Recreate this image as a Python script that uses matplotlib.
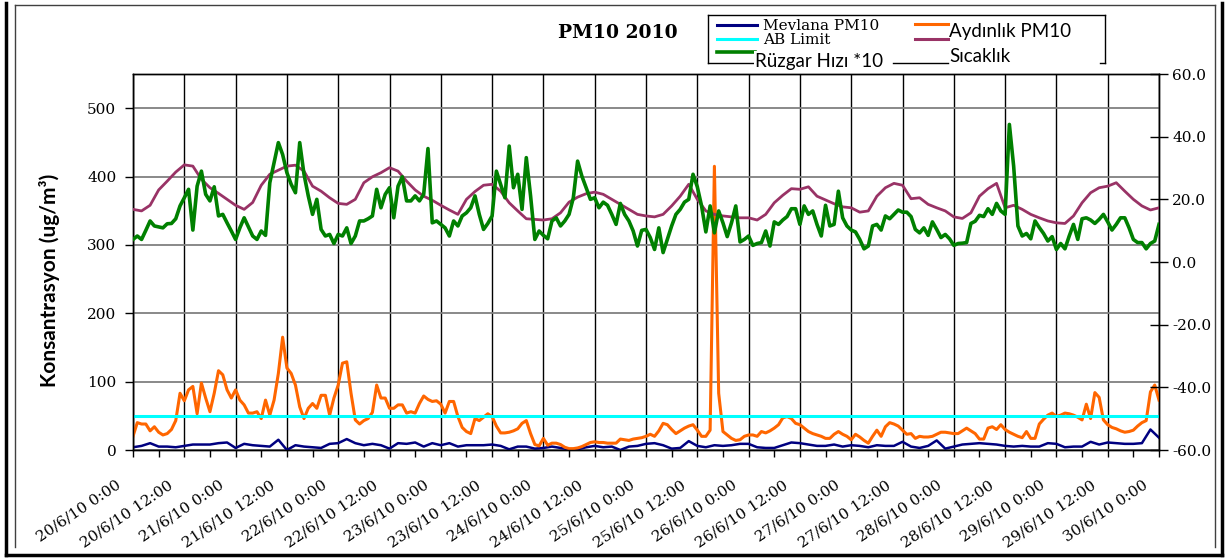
import numpy as np
import pandas as pd
import matplotlib
matplotlib.use("Agg")
import matplotlib.pyplot as plt
import matplotlib.transforms as mtrans
from matplotlib.lines import Line2D
from matplotlib.ticker import MultipleLocator, FuncFormatter

# ---- data ----
START = pd.Timestamp("2010-06-20 00:00")
AB_LIMIT = 50

# hourly series
aydinlik_pm10 = [
    20, 40, 38, 38, 28, 34, 26, 22, 24, 30,
    43, 83, 72, 88, 93, 53, 98, 76, 56, 83,
    116, 110, 88, 76, 88, 73, 66, 54, 54, 56,
    46, 73, 51, 73, 112, 165, 120, 112, 95, 63,
    46, 61, 68, 61, 80, 80, 51, 76, 95, 127,
    129, 83, 44, 38, 43, 46, 55, 95, 76, 76,
    61, 61, 66, 66, 54, 56, 54, 68, 79, 74,
    71, 72, 67, 54, 71, 71, 49, 33, 27, 24,
    46, 43, 48, 53, 49, 35, 25, 25, 26, 28,
    31, 39, 43, 24, 8, 6, 17, 7, 10, 10,
    8, 4, 2, 2, 3, 5, 8, 11, 12, 11,
    11, 10, 10, 10, 16, 15, 14, 16, 17, 18,
    20, 23, 20, 28, 39, 37, 30, 24, 28, 32,
    35, 37, 29, 20, 20, 29, 415, 83, 27, 22,
    17, 14, 15, 20, 22, 22, 20, 27, 25, 28,
    32, 37, 47, 49, 46, 39, 37, 32, 27, 24,
    22, 20, 17, 17, 23, 27, 23, 20, 15, 23,
    19, 14, 10, 20, 29, 20, 34, 40, 38, 35,
    29, 23, 24, 17, 20, 19, 19, 20, 23, 26,
    26, 25, 24, 24, 28, 32, 28, 24, 16, 16,
    32, 34, 30, 37, 30, 26, 23, 20, 18, 27,
    17, 17, 38, 45, 51, 54, 49, 51, 54, 53,
    51, 48, 44, 67, 46, 84, 77, 44, 37, 33,
    31, 28, 26, 27, 29, 35, 40, 43, 85, 95,
    73,
]
ruzgar_x10 = [
    7.2, 8.3, 7.2, 10.1, 13.1, 11.5, 11.2, 10.9, 12.2, 12.3,
    13.8, 17.9, 20.5, 23.2, 10.2, 24.2, 29.0, 21.6, 19.5, 24.0,
    14.7, 15.2, 12.5, 9.9, 7.2, 10.9, 14.1, 11.2, 8.3, 7.2,
    9.9, 8.5, 25.3, 31.7, 38.1, 34.3, 28.5, 24.8, 22.1, 38.1,
    28.0, 21.1, 15.2, 20.0, 10.4, 8.3, 8.8, 5.9, 8.8, 8.3,
    10.9, 5.9, 8.3, 13.1, 13.1, 13.8, 14.7, 23.2, 17.3, 21.6,
    23.7, 14.1, 24.2, 27.2, 19.5, 19.5, 21.1, 19.5, 21.6, 36.2,
    12.5, 13.1, 12.0, 10.9, 8.3, 13.1, 11.5, 14.7, 15.7, 17.3,
    21.1, 15.2, 10.4, 12.3, 14.7, 29.0, 24.8, 20.5, 37.0, 23.7,
    28.0, 16.8, 33.3, 21.1, 7.2, 9.9, 8.5, 7.4, 13.1, 14.1,
    11.5, 13.1, 15.2, 20.5, 32.2, 27.4, 23.7, 20.0, 20.5, 17.3,
    19.1, 18.1, 15.2, 12.0, 18.7, 15.2, 13.1, 9.9, 5.1, 10.1,
    10.4, 7.8, 4.0, 10.9, 3.0, 7.2, 11.5, 15.2, 16.8, 19.1,
    20.0, 28.0, 24.0, 17.9, 9.6, 17.9, 9.3, 16.3, 12.5, 8.1,
    12.5, 17.9, 6.4, 7.2, 8.3, 5.3, 5.9, 6.2, 9.9, 5.1,
    12.8, 12.0, 13.4, 14.5, 17.0, 17.0, 12.0, 17.9, 15.2, 16.3,
    12.0, 8.3, 18.1, 11.5, 12.0, 22.6, 14.1, 11.5, 10.2, 9.6,
    7.2, 4.2, 5.1, 11.5, 12.0, 10.2, 14.7, 13.8, 15.2, 16.6,
    15.9, 15.9, 14.5, 10.4, 9.3, 10.9, 8.5, 12.8, 10.4, 7.8,
    8.8, 7.4, 5.3, 5.9, 6.0, 6.2, 12.3, 13.0, 14.9, 14.5,
    17.0, 15.2, 18.7, 16.3, 15.2, 43.9, 30.6, 11.5, 8.3, 9.1,
    7.4, 13.1, 11.0, 9.1, 6.7, 8.1, 4.0, 5.9, 4.2, 8.3,
    12.0, 7.2, 13.8, 14.1, 13.4, 12.3, 13.6, 15.2, 12.8, 10.2,
    12.0, 14.1, 14.1, 10.9, 7.2, 6.2, 6.2, 4.2, 5.9, 6.7,
    12.0,
]

# two-hourly series
mevlana_pm10 = [
    4, 6, 10, 5, 5, 4, 6, 8, 8, 8, 10, 11, 3, 9, 7, 6, 5, 15, 0, 7,
    5, 4, 3, 9, 10, 16, 10, 7, 9, 7, 2, 10, 9, 11, 5, 10, 7, 10, 5, 7,
    7, 7, 8, 6, 1, 5, 5, 2, 3, 5, 3, 1, 1, 4, 6, 4, 5, 0, 5, 6,
    9, 10, 7, 2, 3, 13, 6, 4, 7, 6, 7, 9, 9, 4, 3, 3, 7, 11, 10, 8,
    6, 6, 8, 5, 7, 6, 4, 7, 6, 6, 12, 5, 3, 6, 14, 2, 5, 8, 9, 10,
    9, 8, 6, 5, 6, 5, 5, 10, 9, 4, 5, 5, 12, 8, 11, 10, 9, 9, 10, 30,
    18,
]
sicaklik = [
    16.8, 16.3, 18.1, 23.0, 25.8, 28.7, 31.0, 30.6, 26.4, 23.7,
    21.9, 20.0, 18.1, 16.8, 19.0, 24.5, 28.0, 29.3, 30.6, 30.9,
    29.0, 24.2, 22.6, 20.5, 18.7, 18.4, 20.0, 25.3, 27.2, 28.5,
    30.1, 29.0, 25.8, 23.0, 21.0, 19.7, 18.1, 16.6, 15.2, 20.0,
    22.5, 24.5, 24.8, 22.6, 18.9, 16.3, 13.8, 13.6, 13.4, 13.8,
    15.7, 19.1, 20.7, 21.8, 22.3, 21.6, 20.0, 18.4, 16.8, 15.2,
    14.7, 14.4, 15.2, 17.9, 21.0, 24.8, 20.0, 16.3, 15.2, 14.7,
    14.4, 14.1, 14.1, 13.4, 15.2, 18.9, 21.3, 23.4, 23.2, 24.0,
    21.0, 19.8, 18.6, 17.6, 17.3, 15.9, 16.3, 21.0, 23.7, 25.1,
    24.5, 20.2, 20.5, 18.4, 17.3, 16.3, 14.4, 13.9, 15.7, 21.0,
    23.4, 25.1, 17.3, 18.1, 16.8, 15.2, 14.1, 13.1, 12.5, 12.3,
    14.7, 18.9, 22.1, 23.7, 24.2, 25.3, 22.6, 20.0, 17.9, 16.6,
    17.3,
]

t_hourly = np.arange(len(aydinlik_pm10))
t_2h = np.arange(len(sicaklik)) * 2
tick_hours = np.arange(0, 241, 12)
tick_labels = [f"{d.day}/{d.month}/{d:%y} {d.hour}:00"
               for d in START + pd.to_timedelta(tick_hours, unit="h")]

# ---- figure ----
W, H = 1227, 558
fig = plt.figure(figsize=(W / 100, H / 100), dpi=100)
px = lambda x, y: (x / W, 1 - y / H)  # pixel -> figure fraction

ax = fig.add_axes([133 / W, 1 - 450 / H, (1159 - 133) / W, (450 - 74) / H])
ax2 = ax.twinx()

ax.plot(t_2h, mevlana_pm10, color="#000080", lw=1.8, zorder=3)
ax.plot(t_hourly, aydinlik_pm10, color="#FF6600", lw=2.2, zorder=4)
ax.axhline(AB_LIMIT, color="#00FFFF", lw=2.2, zorder=5)
ax2.plot(t_2h, sicaklik, color="#993366", lw=2.0, zorder=3)
ax2.plot(t_hourly, ruzgar_x10, color="#008000", lw=2.6, zorder=4)

ax.set_xlim(0, 240)
ax.set_ylim(0, 550)
ax2.set_ylim(-60, 60)

serif = "DejaVu Serif"
ax.set_xticks(tick_hours)
ax.set_xticklabels(tick_labels, rotation=34, ha="right", va="top",
                   rotation_mode="anchor", fontsize=11, family=serif)
ax.xaxis.set_minor_locator(MultipleLocator(6))
ax.yaxis.set_major_locator(MultipleLocator(100))
ax2.yaxis.set_major_locator(MultipleLocator(20))
ax2.yaxis.set_major_formatter(FuncFormatter(lambda v, p: f"{v:.1f}"))

ax.grid(axis="x", which="major", color="black", lw=1.0)
ax.grid(axis="y", which="major", color="#808080", lw=1.3)
ax.set_axisbelow(True)

ax.tick_params(axis="x", which="both", direction="out", length=5, width=1, pad=15)
ax.tick_params(axis="y", direction="out", length=6, width=1, labelsize=11, pad=6)
ax2.tick_params(axis="y", direction="inout", length=13, width=1, labelsize=11, pad=3)
shift = mtrans.ScaledTranslation(-0.17, 0, fig.dpi_scale_trans)
for lab in ax.get_xticklabels():
    lab.set_transform(lab.get_transform() + shift)
for lab in ax.get_yticklabels() + ax2.get_yticklabels():
    lab.set_family(serif)

for a in (ax, ax2):
    for s in a.spines.values():
        s.set_color("black")
        s.set_linewidth(1.0)

fig.text(*px(50, 280), "Konsantrasyon (ug/m³)", rotation=90, ha="center", va="center",
         family="Lato", fontweight="bold", fontsize=15)
fig.text(*px(618, 33), "PM10 2010", ha="center", va="center", family=serif,
         fontweight="bold", fontsize=13.5)

# ---- legend (drawn like the Excel one) ----
def seg(x0, x1, y0, y1, **kw):
    fig.add_artist(Line2D([x0 / W, x1 / W], [1 - y0 / H, 1 - y1 / H], **kw))

box = dict(color="black", lw=1.0)
seg(708, 1105, 15, 15, **box)
seg(708, 708, 15, 63, **box)
seg(1105, 1105, 15, 63, **box)
seg(708, 756, 63, 63, **box)
seg(893, 948, 63, 63, **box)
seg(1100, 1105, 63, 63, **box)

seg(717, 757, 25, 25, color="#000080", lw=2.2)
seg(717, 757, 39, 39, color="#00FFFF", lw=2.2)
seg(717, 755, 52, 52, color="#008000", lw=2.6)
seg(915, 948, 24, 24, color="#FF6600", lw=2.2)
seg(915, 948, 39, 39, color="#993366", lw=2.2)

fig.text(*px(763, 25.5), "Mevlana PM10", ha="left", va="center", family=serif, fontsize=11)
fig.text(*px(763, 40.5), "AB Limit", ha="left", va="center", family=serif, fontsize=11)
fig.text(*px(755, 61), "Rüzgar Hızı *10", ha="left", va="center", family="Lato", fontsize=13.5,
         bbox=dict(facecolor="white", edgecolor="none", pad=1))
fig.text(*px(949, 31), "Aydınlık PM10", ha="left", va="center", family="Lato", fontsize=13.5)
fig.text(*px(949, 56), "Sıcaklık", ha="left", va="center", family="Lato", fontsize=13.5)

# ---- outer frames ----
seg(15, 1215, 5, 5, color="#404040", lw=1.0)
seg(15, 15, 5, 547, color="#404040", lw=1.0)
seg(1215, 1215, 5, 547, color="#404040", lw=1.0)
seg(6, 6, 3, 555, color="black", lw=2.5)
seg(6, 1222, 555, 555, color="black", lw=2.5)
seg(1222, 1222, 3, 555, color="black", lw=2.5)

fig.savefig("out.png", dpi=100)
